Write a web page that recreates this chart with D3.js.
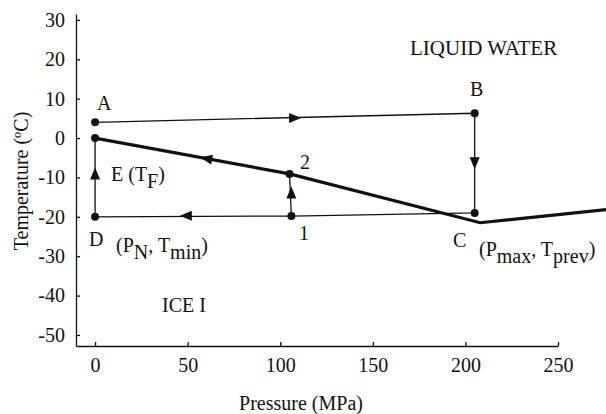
<!DOCTYPE html>
<html>
<head>
<meta charset="utf-8">
<script src="https://cdn.jsdelivr.net/npm/d3@7"></script>
<style>
  body { margin: 0; background: #fff; }
  text { font-family: 'Liberation Serif', 'Times New Roman', serif; fill: #111; }
</style>
</head>
<body>
<script>
// cycle points (pressure MPa, temperature C)
var pointNames = ['A', 'B', 'C', 'D', 'E', '1', '2']
var pointP = [0, 205, 205, 0, 0, 106, 105]
var pointT = [4, 6.3, -19, -20, 0, -19.8, -9.1]

// path of the cycle A -> B -> C -> 1 -> D -> E
var cycleP = [0, 205, 205, 106, 0, 0]
var cycleT = [4, 6.3, -19, -19.8, -20, 0]

// branch 1 -> 2
var branchP = [106, 105]
var branchT = [-19.8, -9.1]

// melting curve ice I / liquid
var curveP = [0, 105, 208, 280]
var curveT = [0, -9.1, -21.5, -18]

// arrow heads: position and direction
var arrowP = [108, 205, 49, 106, 0, 60]
var arrowT = [5.1, -6.4, -19.7, -13.8, -9, -5.1]
var arrowDir = ['right', 'down', 'left', 'up', 'up', 'curve']

var xTicks = [0, 50, 100, 150, 200, 250]
var yTicks = [30, 20, 10, 0, -10, -20, -30, -40, -50]

var W = 606, H = 414

var x = d3.scaleLinear().domain([-10.3, 250]).range([76, 558])
var y = d3.scaleLinear().domain([-52.8, 31.5]).range([346, 14])

var svg = d3.select('body').append('svg')
  .attr('width', W)
  .attr('height', H)

var fmt = d => String(d)

// axes
svg.append('g')
  .attr('transform', 'translate(0,346)')
  .call(d3.axisBottom(x).tickValues(xTicks).tickFormat(fmt).tickSizeInner(-4).tickSizeOuter(0).tickPadding(12))
svg.append('g')
  .attr('transform', 'translate(76,0)')
  .call(d3.axisLeft(y).tickValues(yTicks).tickFormat(fmt).tickSizeInner(-4).tickSizeOuter(0).tickPadding(11))

svg.selectAll('.domain, .tick line').attr('stroke', '#111').attr('stroke-width', 1.3)
svg.selectAll('.tick text').attr('font-size', 20).attr('font-family', "'Liberation Serif', serif").attr('fill', '#111')

// axis titles
svg.append('text')
  .attr('x', 301).attr('y', 410)
  .attr('text-anchor', 'middle')
  .attr('font-size', 20)
  .text('Pressure (MPa)')
svg.append('text')
  .attr('transform', 'translate(28,181) rotate(-90)')
  .attr('text-anchor', 'middle')
  .attr('font-size', 20)
  .text('Temperature (ºC)')

var line = d3.line().x(d => x(d[0])).y(d => y(d[1]))

// melting curve (thick)
svg.append('path')
  .attr('d', line(d3.zip(curveP, curveT)))
  .attr('fill', 'none').attr('stroke', '#111').attr('stroke-width', 3.2)

// cycle
svg.append('path')
  .attr('d', line(d3.zip(cycleP, cycleT)))
  .attr('fill', 'none').attr('stroke', '#111').attr('stroke-width', 1.3)
svg.append('path')
  .attr('d', line(d3.zip(branchP, branchT)))
  .attr('fill', 'none').attr('stroke', '#111').attr('stroke-width', 1.3)

// points
svg.selectAll('.pt')
  .data(d3.zip(pointP, pointT))
  .enter().append('circle')
  .attr('cx', d => x(d[0]))
  .attr('cy', d => y(d[1]))
  .attr('r', 4)
  .attr('fill', '#111')

// arrows
var angles = { right: 0, down: 90, left: 180, up: -90 }
var curveAngle = Math.atan2(y(curveT[0]) - y(curveT[1]), x(curveP[0]) - x(curveP[1])) * 180 / Math.PI
svg.selectAll('.arrow')
  .data(d3.zip(arrowP, arrowT, arrowDir))
  .enter().append('path')
  .attr('d', 'M6,0 L-6,-5 L-6,5 Z')
  .attr('fill', '#111')
  .attr('transform', function (d) {
    var a = d[2] === 'curve' ? curveAngle : angles[d[2]]
    var yy = d[2] === 'curve' ? y(curveT[0] + (curveT[1] - curveT[0]) * d[0] / curveP[1]) : y(d[1])
    return 'translate(' + x(d[0]) + ',' + yy + ') rotate(' + a + ')'
  })

// labels
function label(txt, px, py, size) {
  return svg.append('text')
    .attr('x', px).attr('y', py)
    .attr('font-size', size || 20)
    .text(txt)
}
// parts: [text, shift] with shift = +1 down to subscript, -1 back up
function subLabel(parts, px, py) {
  var t = svg.append('text').attr('x', px).attr('y', py).attr('font-size', 20)
  parts.forEach(function (p) {
    t.append('tspan')
      .attr('dy', (p[1] || 0) * 7)
      .text(p[0])
  })
  return t
}

label('A', 97, 110)
label('B', 470, 96)
label('C', 453, 247)
label('D', 89, 246)
label('1', 299, 240)
label('2', 300, 169)
label('LIQUID WATER', 410, 55, 21)
label('ICE I', 162, 312)

subLabel([['E (T'], ['F', 1], [')', -1]], 111, 181)
subLabel([['(P'], ['N', 1], [', T', -1], ['min', 1], [')', -1]], 116, 252)
subLabel([['(P'], ['max', 1], [', T', -1], ['prev', 1], [')', -1]], 479, 256)
</script>
</body>
</html>
